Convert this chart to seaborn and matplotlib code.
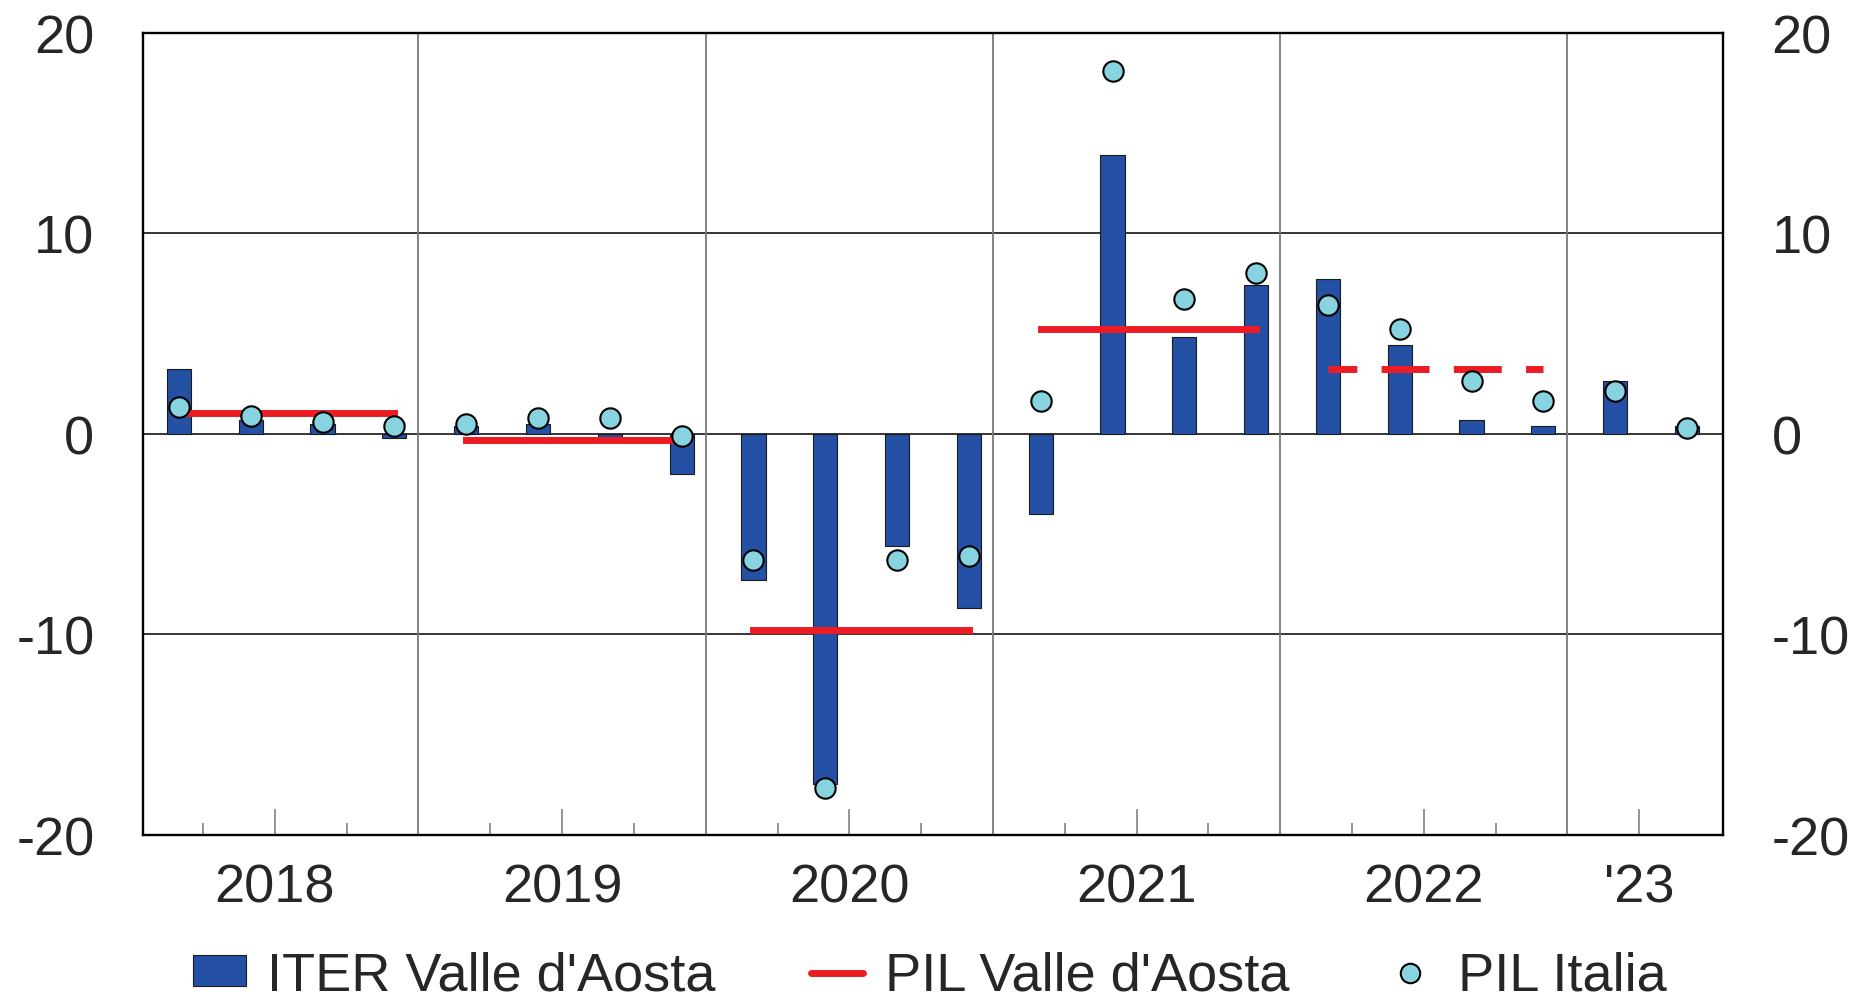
import numpy as np
import pandas as pd
import seaborn as sns
import matplotlib.pyplot as plt
from matplotlib.patches import Patch
from matplotlib.lines import Line2D

# quarterly data, 2018Q1 .. 2023Q2
quarters = ["2018Q1", "2018Q2", "2018Q3", "2018Q4",
            "2019Q1", "2019Q2", "2019Q3", "2019Q4",
            "2020Q1", "2020Q2", "2020Q3", "2020Q4",
            "2021Q1", "2021Q2", "2021Q3", "2021Q4",
            "2022Q1", "2022Q2", "2022Q3", "2022Q4",
            "2023Q1", "2023Q2"]
iter_vda = [3.2, 0.7, 0.5, -0.2,
            0.4, 0.5, -0.2, -2.0,
            -7.3, -17.5, -5.6, -8.7,
            -4.0, 13.9, 4.8, 7.4,
            7.7, 4.4, 0.7, 0.4,
            2.6, 0.4]
pil_italia = [1.3, 0.9, 0.6, 0.4,
              0.5, 0.8, 0.8, -0.1,
              -6.3, -17.7, -6.3, -6.1,
              1.6, 18.1, 6.7, 8.0,
              6.4, 5.2, 2.6, 1.6,
              2.1, 0.3]

# annual PIL Valle d'Aosta (2022 is an estimate, drawn dashed)
pil_years = [2018, 2019, 2020, 2021, 2022]
pil_vda = [1.0, -0.3, -9.8, 5.2, 3.2]

year_labels = ["2018", "2019", "2020", "2021", "2022", "'23"]
y_ticks = [-20, -10, 0, 10, 20]

BLUE = "#2451A4"
RED = "#ED1C24"
CYAN = "#87D3E0"
GRAY = "#777777"


def main():
    sns.set_style("white")
    plt.rcParams['font.family'] = ['Liberation Sans', 'DejaVu Sans']
    plt.rcParams['axes.unicode_minus'] = False

    df = pd.DataFrame({"pos": np.arange(len(quarters)), "quarter": quarters,
                       "iter": iter_vda, "pil": pil_italia})

    fig = plt.figure(figsize=(18.6, 10.03), dpi=100)
    ax = fig.add_axes([0.0769, 0.1669, 0.9263 - 0.0769, 0.9666 - 0.1669])

    # bars: ITER
    sns.barplot(data=df, x="pos", y="iter", native_scale=True, width=0.337,
                color=BLUE, saturation=1, edgecolor="#1a1a1a", linewidth=0.8,
                errorbar=None, ax=ax, zorder=2)

    # red lines: annual PIL VdA, from Q1 to Q4 of each year
    for yr, v in zip(pil_years, pil_vda):
        start = 4 * (yr - 2018)
        seg = pd.DataFrame({"pos": [start, start + 3], "pil": [v, v]})
        sns.lineplot(data=seg, x="pos", y="pil", color=RED, linewidth=5,
                     solid_capstyle="projecting", dash_capstyle="butt",
                     ax=ax, zorder=3)
        if yr == 2022:
            ax.lines[-1].set_linestyle((2.75, (6.9, 3.5)))

    # dots: PIL Italia
    sns.scatterplot(data=df, x="pos", y="pil", s=215, color=CYAN,
                    edgecolor="black", linewidth=1.5, ax=ax, zorder=4)

    ax.set_xlim(-0.5, len(quarters) - 0.5)
    ax.set_ylim(-20, 20)
    ax.set_xlabel("")
    ax.set_ylabel("")

    # x ticks sit slightly left of the quarter boundaries
    tick_pos = np.arange(len(quarters) - 1) + 0.335
    major = tick_pos[[1, 5, 9, 13, 17, 20]]
    bounds = tick_pos[[3, 7, 11, 15, 19]]
    minor = [t for t in tick_pos if t not in major and t not in bounds]

    ax.set_xticks(major)
    ax.set_xticklabels(year_labels)
    ax.set_xticks(minor, minor=True)
    ax.tick_params(axis='x', which='major', direction='in', length=18.7,
                   width=1.1, color=GRAY, pad=20, labelsize=39, bottom=True)
    ax.tick_params(axis='x', which='minor', direction='in', length=8.6,
                   width=1.1, color=GRAY, bottom=True)
    for b in bounds:
        ax.axvline(b, color=GRAY, lw=1.3, zorder=1)

    ax.set_yticks(y_ticks)
    ax.yaxis.grid(True, color="black", lw=1.1)
    ax.set_axisbelow(True)
    ax.tick_params(axis='y', length=0, pad=35, labelsize=39,
                   labelleft=True, labelright=True)

    for s in ax.spines.values():
        s.set_visible(True)
        s.set_color("black")
        s.set_linewidth(1.7)

    handles = [
        Patch(facecolor=BLUE, edgecolor="#1a1a1a", linewidth=0.8,
              label="ITER Valle d'Aosta"),
        Line2D([], [], color=RED, lw=5, label="PIL Valle d'Aosta"),
        Line2D([], [], marker='o', ls='none', markersize=14,
               markerfacecolor=CYAN, markeredgecolor="black",
               markeredgewidth=1.5, label="PIL Italia"),
    ]
    fig.legend(handles=handles, loc="center", bbox_to_anchor=(0.500, 0.026),
               ncol=3, frameon=False, fontsize=39, handlelength=0.97,
               handleheight=0.5, handletextpad=0.4, columnspacing=1.75,
               borderpad=0.2)

    fig.savefig("out.png", dpi=100)


if __name__ == "__main__":
    main()
